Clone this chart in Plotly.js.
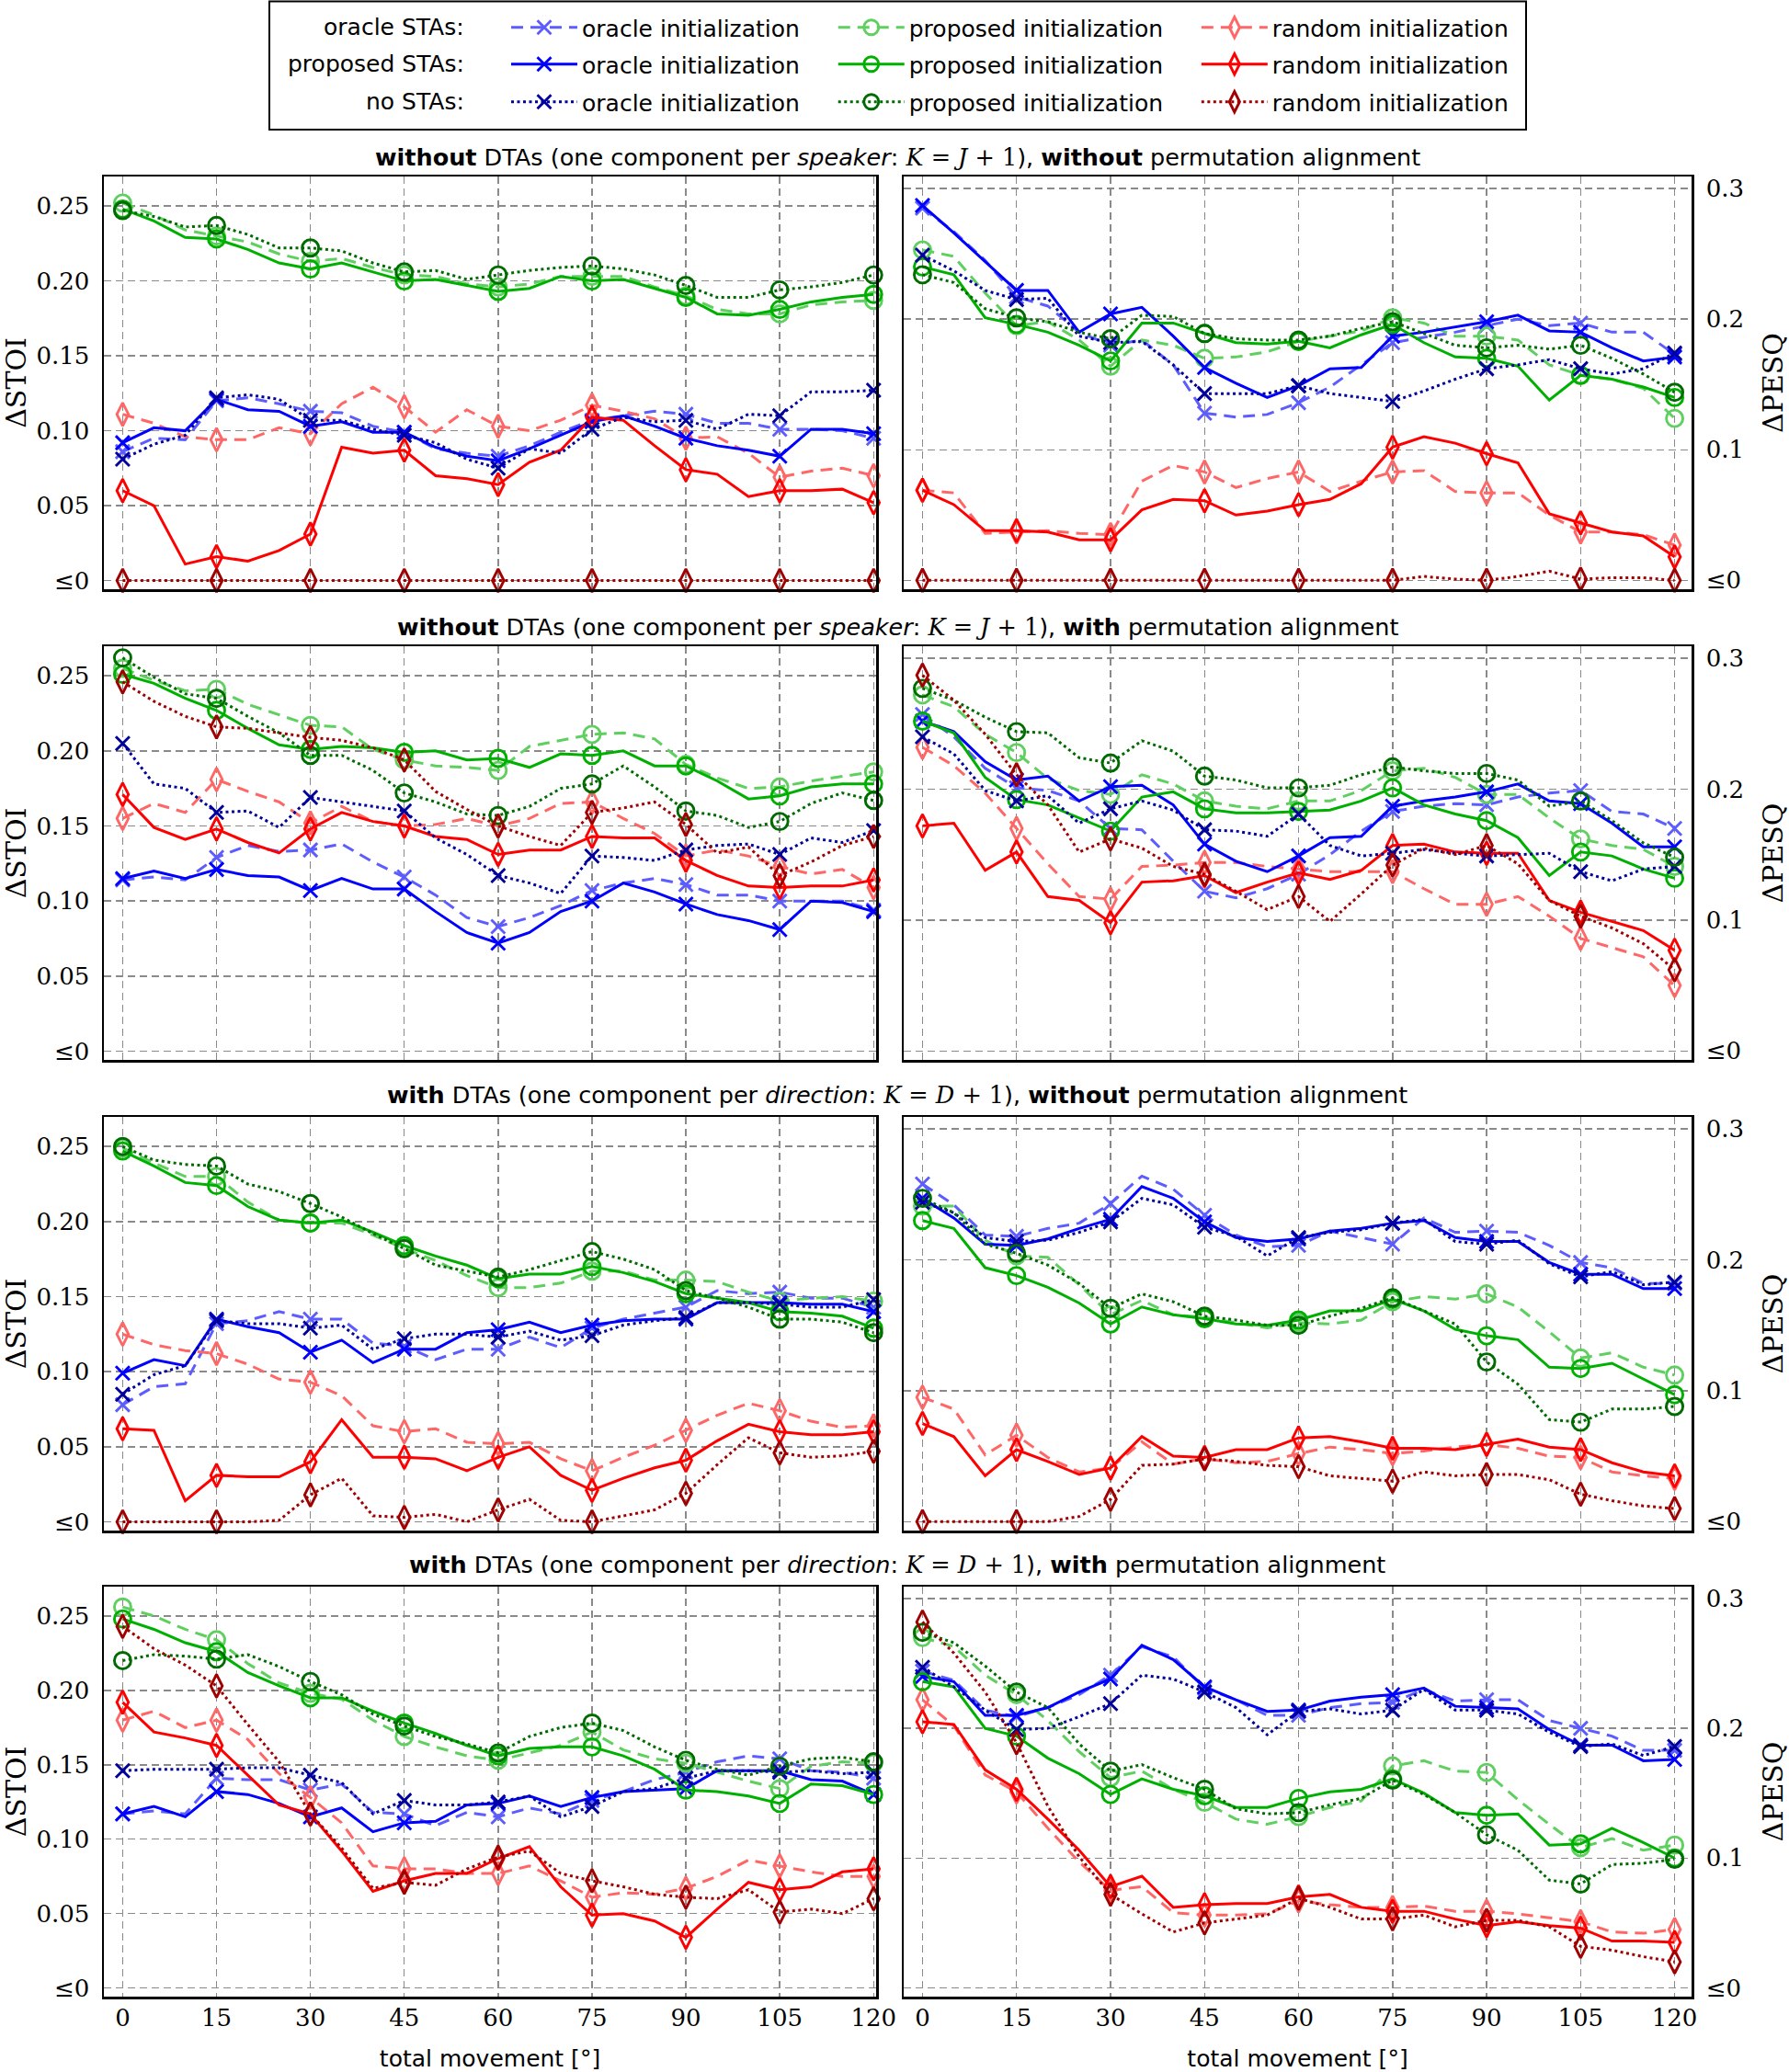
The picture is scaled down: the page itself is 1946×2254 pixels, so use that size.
<!DOCTYPE html>
<html><head><meta charset="utf-8">
<script src="https://cdn.plot.ly/plotly-3.0.1.min.js"></script>
<style>html,body{margin:0;padding:0;background:#fff}</style>
</head><body>
<div id="chart" style="width:1946px;height:2254px"></div>
<script>
// ---------- data ----------
const ANGLES = [0,5,10,15,20,25,30,35,40,45,50,55,60,65,70,75,80,85,90,95,100,105,110,115,120];
const MARK_STEP = 15;
const STOI_TICKS = [0,0.05,0.10,0.15,0.20,0.25];
const STOI_LABELS = ['≤0','0.05','0.10','0.15','0.20','0.25'];
const PESQ_TICKS = [0,0.1,0.2,0.3];
const PESQ_LABELS = ['≤0','0.1','0.2','0.3'];
const INIT_NAMES = ['oracle initialization','proposed initialization','random initialization'];
const STA_NAMES = ['oracle STAs:','proposed STAs:','no STAs:'];
const ROW_TITLES = [
 '<b>without</b> DTAs (one component per <i>speaker</i>: <span style="font-family:DejaVu Serif"><i>K</i> = <i>J</i> + 1</span>), <b>without</b> permutation alignment',
 '<b>without</b> DTAs (one component per <i>speaker</i>: <span style="font-family:DejaVu Serif"><i>K</i> = <i>J</i> + 1</span>), <b>with</b> permutation alignment',
 '<b>with</b> DTAs (one component per <i>direction</i>: <span style="font-family:DejaVu Serif"><i>K</i> = <i>D</i> + 1</span>), <b>without</b> permutation alignment',
 '<b>with</b> DTAs (one component per <i>direction</i>: <span style="font-family:DejaVu Serif"><i>K</i> = <i>D</i> + 1</span>), <b>with</b> permutation alignment'
];
// naming: r{row}{s=STOI|p=PESQ}_{o=oracle STAs|p=proposed STAs|n=no STAs}{O=oracle init|P=proposed init|R=random init}
// row 1
const r1s_oO=[0.086,0.095,0.094,0.120,0.122,0.118,0.113,0.112,0.103,0.099,0.088,0.085,0.083,0.090,0.099,0.107,0.110,0.113,0.111,0.105,0.105,0.101,0.101,0.100,0.095];
const r1s_oP=[0.252,0.244,0.234,0.230,0.226,0.218,0.213,0.215,0.209,0.204,0.203,0.198,0.196,0.198,0.203,0.203,0.203,0.196,0.190,0.181,0.178,0.178,0.184,0.186,0.187];
const r1s_oR=[0.111,0.105,0.096,0.094,0.094,0.102,0.098,0.118,0.129,0.116,0.099,0.114,0.103,0.100,0.107,0.117,0.113,0.108,0.095,0.096,0.085,0.069,0.073,0.075,0.070];
const r1s_pO=[0.092,0.102,0.100,0.121,0.114,0.113,0.103,0.106,0.099,0.099,0.089,0.083,0.080,0.088,0.097,0.106,0.110,0.103,0.095,0.090,0.087,0.083,0.101,0.101,0.098];
const r1s_pP=[0.248,0.240,0.229,0.228,0.221,0.212,0.208,0.212,0.206,0.200,0.201,0.197,0.193,0.195,0.203,0.200,0.201,0.195,0.189,0.178,0.177,0.181,0.186,0.189,0.191];
const r1s_pR=[0.060,0.050,0.011,0.016,0.013,0.020,0.031,0.089,0.085,0.087,0.070,0.068,0.064,0.079,0.087,0.109,0.107,0.090,0.074,0.071,0.056,0.060,0.060,0.061,0.052];
const r1s_nO=[0.081,0.091,0.097,0.122,0.124,0.121,0.107,0.107,0.101,0.097,0.092,0.081,0.075,0.088,0.085,0.101,0.109,0.106,0.107,0.101,0.111,0.110,0.126,0.126,0.127];
const r1s_nP=[0.247,0.243,0.236,0.237,0.231,0.222,0.222,0.220,0.212,0.206,0.207,0.201,0.204,0.207,0.209,0.210,0.208,0.204,0.197,0.189,0.189,0.194,0.196,0.199,0.204];
const r1s_nR=[0,0,0,0,0,0,0,0,0,0,0,0,0,0,0,0,0,0,0,0,0,0,0,0,0];
const r1p_oO=[0.285,0.267,0.245,0.217,0.210,0.190,0.180,0.184,0.165,0.128,0.125,0.127,0.136,0.148,0.165,0.182,0.186,0.190,0.195,0.200,0.195,0.197,0.190,0.190,0.173];
const r1p_oP=[0.253,0.248,0.220,0.195,0.198,0.184,0.164,0.184,0.180,0.170,0.171,0.175,0.183,0.187,0.191,0.201,0.197,0.187,0.187,0.184,0.165,0.157,0.154,0.147,0.124];
const r1p_oR=[0.069,0.067,0.036,0.037,0.038,0.036,0.035,0.076,0.088,0.083,0.071,0.078,0.083,0.068,0.076,0.083,0.084,0.068,0.067,0.067,0.050,0.037,0.037,0.035,0.027];
const r1p_pO=[0.287,0.266,0.244,0.222,0.222,0.190,0.204,0.209,0.187,0.163,0.151,0.140,0.149,0.162,0.163,0.187,0.190,0.194,0.198,0.203,0.191,0.190,0.178,0.168,0.171];
const r1p_pP=[0.240,0.234,0.201,0.196,0.190,0.180,0.168,0.197,0.197,0.189,0.182,0.181,0.183,0.178,0.188,0.196,0.182,0.171,0.170,0.164,0.138,0.157,0.154,0.148,0.140];
const r1p_pR=[0.069,0.058,0.038,0.038,0.037,0.031,0.031,0.054,0.062,0.061,0.050,0.053,0.058,0.062,0.074,0.102,0.110,0.105,0.097,0.090,0.051,0.044,0.037,0.034,0.018];
const r1p_nO=[0.249,0.237,0.222,0.215,0.216,0.187,0.182,0.183,0.165,0.143,0.143,0.143,0.149,0.143,0.140,0.137,0.145,0.154,0.162,0.165,0.169,0.162,0.158,0.162,0.174];
const r1p_nP=[0.234,0.228,0.208,0.201,0.198,0.190,0.185,0.203,0.202,0.189,0.185,0.184,0.184,0.187,0.193,0.198,0.189,0.180,0.178,0.180,0.177,0.180,0.170,0.158,0.144];
const r1p_nR=[0,0,0,0,0,0,0,0,0,0,0,0,0,0,0,0,0.003,0.001,0,0.003,0.007,0.001,0.002,0.002,0];
// row 2
const r2s_oO=[0.114,0.116,0.114,0.129,0.137,0.133,0.134,0.138,0.126,0.116,0.104,0.089,0.083,0.089,0.097,0.107,0.112,0.115,0.111,0.104,0.104,0.100,0.100,0.100,0.094];
const r2s_oP=[0.255,0.247,0.240,0.241,0.231,0.224,0.217,0.216,0.201,0.194,0.190,0.189,0.187,0.203,0.207,0.211,0.212,0.208,0.191,0.182,0.175,0.176,0.180,0.183,0.186];
const r2s_oR=[0.155,0.165,0.159,0.181,0.173,0.166,0.152,0.163,0.153,0.150,0.151,0.155,0.150,0.155,0.165,0.166,0.155,0.145,0.130,0.134,0.130,0.123,0.118,0.121,0.109];
const r2s_pO=[0.115,0.120,0.115,0.121,0.117,0.116,0.107,0.115,0.108,0.108,0.093,0.079,0.072,0.079,0.093,0.100,0.112,0.106,0.098,0.091,0.087,0.081,0.100,0.099,0.093];
const r2s_pP=[0.251,0.245,0.235,0.227,0.215,0.204,0.201,0.203,0.202,0.199,0.200,0.194,0.195,0.189,0.198,0.197,0.200,0.190,0.190,0.180,0.168,0.170,0.176,0.178,0.178];
const r2s_pR=[0.171,0.149,0.141,0.148,0.139,0.132,0.148,0.159,0.153,0.150,0.143,0.141,0.131,0.134,0.134,0.143,0.142,0.142,0.127,0.117,0.110,0.109,0.110,0.110,0.114];
const r2s_nO=[0.205,0.178,0.175,0.159,0.160,0.149,0.169,0.166,0.163,0.160,0.142,0.131,0.117,0.112,0.105,0.130,0.129,0.127,0.134,0.137,0.138,0.131,0.142,0.139,0.147];
const r2s_nP=[0.262,0.249,0.238,0.235,0.223,0.212,0.197,0.197,0.187,0.172,0.166,0.158,0.157,0.163,0.175,0.178,0.190,0.176,0.160,0.157,0.149,0.153,0.165,0.172,0.167];
const r2s_nR=[0.246,0.233,0.223,0.216,0.215,0.212,0.209,0.207,0.202,0.194,0.173,0.161,0.150,0.143,0.137,0.159,0.162,0.166,0.151,0.132,0.136,0.117,0.126,0.137,0.143];
const r2p_oO=[0.257,0.240,0.216,0.201,0.199,0.191,0.170,0.169,0.145,0.122,0.117,0.124,0.135,0.150,0.168,0.183,0.187,0.189,0.188,0.194,0.197,0.199,0.183,0.181,0.170];
const r2p_oP=[0.272,0.263,0.242,0.228,0.208,0.199,0.196,0.211,0.204,0.191,0.187,0.185,0.191,0.191,0.199,0.214,0.216,0.209,0.196,0.196,0.178,0.162,0.157,0.154,0.141];
const r2p_oR=[0.232,0.218,0.197,0.170,0.143,0.118,0.116,0.141,0.142,0.144,0.144,0.141,0.139,0.137,0.137,0.137,0.124,0.112,0.112,0.118,0.103,0.086,0.079,0.072,0.050];
const r2p_pO=[0.252,0.244,0.221,0.207,0.210,0.191,0.202,0.203,0.188,0.158,0.145,0.137,0.149,0.163,0.164,0.187,0.191,0.194,0.198,0.204,0.191,0.189,0.174,0.156,0.156];
const r2p_pP=[0.252,0.243,0.209,0.192,0.188,0.178,0.168,0.194,0.198,0.185,0.182,0.182,0.183,0.184,0.191,0.201,0.188,0.181,0.176,0.163,0.134,0.152,0.149,0.139,0.132];
const r2p_pR=[0.172,0.174,0.138,0.152,0.118,0.115,0.098,0.129,0.130,0.134,0.121,0.129,0.136,0.131,0.138,0.157,0.158,0.152,0.151,0.151,0.115,0.106,0.099,0.092,0.077];
const r2p_nO=[0.240,0.227,0.199,0.191,0.195,0.174,0.185,0.191,0.184,0.169,0.168,0.164,0.181,0.157,0.149,0.151,0.154,0.151,0.149,0.150,0.151,0.137,0.130,0.139,0.141];
const r2p_nP=[0.277,0.268,0.255,0.244,0.243,0.224,0.220,0.237,0.229,0.210,0.207,0.201,0.201,0.203,0.211,0.217,0.214,0.212,0.212,0.207,0.187,0.191,0.176,0.159,0.148];
const r2p_nR=[0.287,0.268,0.242,0.211,0.188,0.152,0.162,0.155,0.141,0.135,0.122,0.108,0.118,0.099,0.120,0.142,0.155,0.150,0.157,0.143,0.115,0.103,0.094,0.082,0.062];
// row 3
const r3s_oO=[0.078,0.090,0.092,0.132,0.134,0.140,0.135,0.135,0.119,0.117,0.108,0.115,0.115,0.123,0.116,0.129,0.135,0.139,0.143,0.154,0.152,0.153,0.149,0.149,0.143];
const r3s_oP=[0.249,0.239,0.230,0.230,0.213,0.201,0.199,0.199,0.191,0.182,0.174,0.164,0.156,0.156,0.159,0.167,0.167,0.161,0.161,0.160,0.153,0.147,0.149,0.150,0.147];
const r3s_oR=[0.125,0.118,0.114,0.112,0.105,0.095,0.093,0.084,0.064,0.060,0.062,0.053,0.052,0.053,0.042,0.034,0.043,0.051,0.061,0.071,0.079,0.074,0.067,0.063,0.064];
const r3s_pO=[0.099,0.108,0.104,0.135,0.130,0.126,0.113,0.121,0.106,0.115,0.115,0.126,0.128,0.133,0.126,0.131,0.134,0.135,0.135,0.146,0.146,0.146,0.145,0.145,0.140];
const r3s_pP=[0.247,0.237,0.226,0.224,0.210,0.201,0.199,0.201,0.193,0.184,0.177,0.171,0.162,0.165,0.165,0.170,0.166,0.160,0.152,0.149,0.146,0.140,0.139,0.137,0.129];
const r3s_pR=[0.062,0.061,0.014,0.031,0.030,0.030,0.040,0.068,0.043,0.043,0.042,0.034,0.043,0.050,0.031,0.021,0.029,0.036,0.041,0.054,0.065,0.060,0.058,0.058,0.060];
const r3s_nO=[0.085,0.098,0.104,0.134,0.132,0.132,0.129,0.131,0.115,0.122,0.125,0.125,0.123,0.127,0.121,0.124,0.131,0.134,0.136,0.146,0.146,0.145,0.143,0.143,0.148];
const r3s_nP=[0.250,0.241,0.238,0.237,0.225,0.220,0.212,0.203,0.192,0.182,0.171,0.167,0.163,0.168,0.174,0.180,0.175,0.168,0.154,0.149,0.143,0.135,0.135,0.133,0.126];
const r3s_nR=[0,0,0,0,0,0.001,0.018,0.029,0.004,0.003,0.005,0,0.008,0.015,0.001,0,0.004,0.008,0.019,0.038,0.056,0.046,0.043,0.044,0.047];
const r3p_oO=[0.258,0.242,0.219,0.218,0.224,0.228,0.243,0.264,0.254,0.234,0.219,0.210,0.211,0.222,0.217,0.212,0.232,0.221,0.222,0.221,0.211,0.198,0.194,0.182,0.182];
const r3p_oP=[0.241,0.241,0.215,0.203,0.202,0.181,0.158,0.169,0.158,0.156,0.152,0.148,0.152,0.151,0.154,0.168,0.172,0.170,0.174,0.164,0.145,0.125,0.129,0.118,0.112];
const r3p_oR=[0.095,0.086,0.051,0.066,0.049,0.038,0.041,0.061,0.044,0.048,0.045,0.046,0.052,0.057,0.055,0.052,0.054,0.057,0.059,0.056,0.050,0.049,0.038,0.035,0.033];
const r3p_pO=[0.247,0.232,0.212,0.211,0.216,0.224,0.231,0.256,0.247,0.229,0.217,0.214,0.216,0.222,0.224,0.228,0.230,0.217,0.214,0.214,0.198,0.189,0.189,0.178,0.178];
const r3p_pP=[0.230,0.224,0.194,0.188,0.179,0.167,0.151,0.164,0.158,0.155,0.151,0.150,0.154,0.161,0.161,0.170,0.161,0.147,0.142,0.139,0.118,0.117,0.121,0.109,0.097];
const r3p_pR=[0.075,0.065,0.035,0.055,0.046,0.036,0.041,0.065,0.050,0.049,0.055,0.055,0.064,0.065,0.061,0.056,0.056,0.055,0.059,0.063,0.057,0.055,0.045,0.038,0.035];
const r3p_nO=[0.244,0.236,0.217,0.214,0.215,0.221,0.229,0.247,0.242,0.225,0.218,0.203,0.217,0.221,0.223,0.228,0.231,0.214,0.212,0.215,0.197,0.187,0.191,0.181,0.183];
const r3p_nP=[0.247,0.236,0.212,0.205,0.196,0.182,0.163,0.174,0.168,0.157,0.154,0.150,0.150,0.157,0.163,0.171,0.161,0.151,0.122,0.105,0.078,0.076,0.086,0.086,0.088];
const r3p_nR=[0,0,0,0,0,0.004,0.017,0.043,0.044,0.048,0.046,0.043,0.042,0.035,0.033,0.031,0.038,0.035,0.036,0.036,0.032,0.021,0.016,0.012,0.010];
// row 4
const r4s_oO=[0.117,0.119,0.117,0.141,0.140,0.140,0.133,0.137,0.118,0.117,0.109,0.118,0.115,0.121,0.117,0.126,0.132,0.140,0.145,0.152,0.156,0.154,0.146,0.145,0.141];
const r4s_oP=[0.256,0.250,0.241,0.234,0.218,0.205,0.198,0.194,0.180,0.169,0.162,0.156,0.153,0.158,0.163,0.172,0.160,0.154,0.151,0.145,0.139,0.134,0.149,0.152,0.151];
const r4s_oR=[0.180,0.186,0.175,0.180,0.167,0.144,0.128,0.111,0.082,0.080,0.080,0.077,0.077,0.082,0.072,0.061,0.064,0.063,0.067,0.075,0.086,0.082,0.078,0.075,0.075];
const r4s_pO=[0.117,0.122,0.115,0.132,0.130,0.124,0.115,0.121,0.105,0.111,0.112,0.123,0.124,0.129,0.122,0.128,0.132,0.133,0.134,0.146,0.146,0.146,0.140,0.139,0.130];
const r4s_pP=[0.248,0.241,0.232,0.226,0.212,0.203,0.195,0.195,0.186,0.178,0.171,0.163,0.156,0.161,0.162,0.162,0.156,0.147,0.133,0.132,0.129,0.124,0.137,0.136,0.130];
const r4s_pR=[0.192,0.172,0.168,0.163,0.143,0.123,0.117,0.092,0.065,0.072,0.077,0.077,0.087,0.095,0.068,0.049,0.050,0.045,0.034,0.053,0.071,0.066,0.068,0.078,0.080];
const r4s_nO=[0.146,0.147,0.147,0.147,0.148,0.148,0.143,0.138,0.117,0.126,0.123,0.123,0.125,0.129,0.115,0.122,0.132,0.134,0.141,0.146,0.146,0.145,0.146,0.144,0.145];
const r4s_nP=[0.220,0.224,0.223,0.221,0.224,0.216,0.206,0.197,0.184,0.176,0.169,0.164,0.158,0.169,0.175,0.178,0.173,0.162,0.153,0.147,0.143,0.149,0.154,0.155,0.152];
const r4s_nR=[0.243,0.228,0.217,0.203,0.177,0.152,0.117,0.094,0.067,0.071,0.069,0.080,0.088,0.092,0.077,0.072,0.068,0.063,0.061,0.060,0.066,0.051,0.053,0.050,0.060];
const r4p_oO=[0.244,0.237,0.214,0.209,0.216,0.226,0.241,0.263,0.255,0.231,0.222,0.210,0.210,0.216,0.219,0.220,0.230,0.221,0.222,0.222,0.206,0.200,0.194,0.183,0.183];
const r4p_oP=[0.270,0.263,0.241,0.226,0.206,0.182,0.162,0.167,0.153,0.143,0.130,0.126,0.132,0.139,0.144,0.171,0.175,0.167,0.166,0.145,0.126,0.108,0.115,0.106,0.110];
const r4p_oR=[0.222,0.202,0.164,0.151,0.123,0.097,0.075,0.078,0.058,0.056,0.056,0.057,0.067,0.064,0.062,0.062,0.063,0.059,0.059,0.057,0.054,0.051,0.043,0.042,0.045];
const r4p_pO=[0.240,0.236,0.210,0.210,0.216,0.228,0.238,0.264,0.253,0.232,0.222,0.213,0.214,0.221,0.224,0.226,0.231,0.217,0.216,0.215,0.199,0.187,0.187,0.175,0.176];
const r4p_pP=[0.236,0.232,0.200,0.194,0.177,0.165,0.149,0.161,0.153,0.148,0.139,0.139,0.146,0.151,0.153,0.161,0.150,0.135,0.133,0.134,0.110,0.111,0.123,0.112,0.100];
const r4p_pR=[0.205,0.203,0.168,0.153,0.130,0.106,0.078,0.086,0.062,0.064,0.065,0.065,0.070,0.072,0.062,0.059,0.059,0.053,0.048,0.051,0.048,0.046,0.036,0.036,0.035];
const r4p_nO=[0.247,0.232,0.214,0.199,0.200,0.209,0.219,0.241,0.238,0.228,0.216,0.195,0.213,0.215,0.211,0.214,0.230,0.214,0.214,0.211,0.197,0.186,0.188,0.179,0.186];
const r4p_nP=[0.274,0.266,0.248,0.228,0.216,0.188,0.167,0.172,0.162,0.153,0.138,0.134,0.135,0.141,0.146,0.160,0.149,0.135,0.118,0.106,0.083,0.080,0.095,0.096,0.099];
const r4p_nR=[0.282,0.258,0.228,0.189,0.140,0.101,0.072,0.057,0.043,0.050,0.053,0.056,0.069,0.062,0.053,0.053,0.056,0.047,0.052,0.052,0.047,0.032,0.029,0.024,0.020];

// ---------- table built from the named arrays ----------
const PANELS = [
 {row:0,col:0,s:{oO:r1s_oO,oP:r1s_oP,oR:r1s_oR,pO:r1s_pO,pP:r1s_pP,pR:r1s_pR,nO:r1s_nO,nP:r1s_nP,nR:r1s_nR}},
 {row:0,col:1,s:{oO:r1p_oO,oP:r1p_oP,oR:r1p_oR,pO:r1p_pO,pP:r1p_pP,pR:r1p_pR,nO:r1p_nO,nP:r1p_nP,nR:r1p_nR}},
 {row:1,col:0,s:{oO:r2s_oO,oP:r2s_oP,oR:r2s_oR,pO:r2s_pO,pP:r2s_pP,pR:r2s_pR,nO:r2s_nO,nP:r2s_nP,nR:r2s_nR}},
 {row:1,col:1,s:{oO:r2p_oO,oP:r2p_oP,oR:r2p_oR,pO:r2p_pO,pP:r2p_pP,pR:r2p_pR,nO:r2p_nO,nP:r2p_nP,nR:r2p_nR}},
 {row:2,col:0,s:{oO:r3s_oO,oP:r3s_oP,oR:r3s_oR,pO:r3s_pO,pP:r3s_pP,pR:r3s_pR,nO:r3s_nO,nP:r3s_nP,nR:r3s_nR}},
 {row:2,col:1,s:{oO:r3p_oO,oP:r3p_oP,oR:r3p_oR,pO:r3p_pO,pP:r3p_pP,pR:r3p_pR,nO:r3p_nO,nP:r3p_nP,nR:r3p_nR}},
 {row:3,col:0,s:{oO:r4s_oO,oP:r4s_oP,oR:r4s_oR,pO:r4s_pO,pP:r4s_pP,pR:r4s_pR,nO:r4s_nO,nP:r4s_nP,nR:r4s_nR}},
 {row:3,col:1,s:{oO:r4p_oO,oP:r4p_oP,oR:r4p_oR,pO:r4p_pO,pP:r4p_pP,pR:r4p_pR,nO:r4p_nO,nP:r4p_nP,nR:r4p_nR}}
];

// ---------- styles ----------
const W = 1946, H = 2254;
const px = v => v / W, py = v => 1 - v / H;
const STA_KEYS = ['o','p','n'];
const INIT_KEYS = ['O','P','R'];
const DASH = {o:'13px,8px', p:'solid', n:'3px,3.5px'};
const COLOR = {
  o:{O:'#5d5dff', P:'#5fcf5f', R:'#ff6666'},
  p:{O:'#0000ff', P:'#00b000', R:'#ff0000'},
  n:{O:'#00009c', P:'#006b00', R:'#a00000'}
};
const SYMBOL = {O:'x-thin-open', P:'circle-open', R:'diamond-tall-open'};
const MSIZE = {O:15, P:18, R:18};
const LW = 3;
const MLW = 2.9;

const COL_X = [[113,953],[983,1840]];
const ROW_Y = [[192,641],[703,1153],[1215,1665],[1726,2172]];
const SERIF = 'DejaVu Serif', SANS = 'DejaVu Sans';
const PAD = '\u00a0\u00a0\u00a0\u00a0';

const traces = [];
const layout = {
  width: W, height: H, margin:{l:0,r:0,t:0,b:0}, paper_bgcolor:'#fff', plot_bgcolor:'#fff',
  showlegend: true, annotations: [], shapes: []
};

PANELS.forEach((p, k) => {
  const n = k + 1, sfx = n === 1 ? '' : String(n);
  const xa = 'x' + sfx, ya = 'y' + sfx;
  const isS = p.col === 0, bottom = p.row === 3;
  layout['xaxis' + sfx] = {
    domain: [px(COL_X[p.col][0]), px(COL_X[p.col][1])], anchor: ya,
    range: isS ? [-3, 120.4] : [-3, 122.7],
    tickmode:'array', tickvals: ANGLES.filter(a => a % MARK_STEP === 0),
    showticklabels: bottom, ticks:'', ticklabelstandoff: -2,
    tickfont:{family:SERIF, size:26, color:'#000'},
    showgrid:true, gridcolor:'#8a8a8a', gridwidth:1.5, griddash:'8px,5px',
    showline:true, mirror:true, linecolor:'#000', linewidth:2.5, zeroline:false,
    title: bottom ? {text:'total movement [°]', font:{family:SANS, size:25, color:'#000'}, standoff:22} : {text:''}
  };
  layout['yaxis' + sfx] = {
    domain: [py(ROW_Y[p.row][1]), py(ROW_Y[p.row][0])], anchor: xa,
    side: isS ? 'left' : 'right',
    range: isS ? [-0.0058, 0.2697] : [-0.0068, 0.3092],
    tickmode:'array', tickvals: isS ? STOI_TICKS : PESQ_TICKS, ticktext: isS ? STOI_LABELS : PESQ_LABELS,
    ticks:'', ticklabelstandoff: 8,
    tickfont:{family:SERIF, size:26, color:'#000'},
    showgrid:true, gridcolor:'#8a8a8a', gridwidth:1.5, griddash:'8px,5px',
    showline:true, mirror:true, linecolor:'#000', linewidth:2.5, zeroline:false,
    title:{text: isS ? 'ΔSTOI' : 'ΔPESQ', font:{family:SERIF, size:30, color:'#000'}, standoff: isS ? 8 : 26}
  };
  STA_KEYS.forEach(sk => INIT_KEYS.forEach(ik => {
    const y = p.s[sk + ik];
    const c = COLOR[sk][ik];
    traces.push({type:'scatter', mode:'lines', x:ANGLES, y:y, xaxis:xa, yaxis:ya,
      line:{color:c, width:LW, dash:DASH[sk]}, showlegend:false, hoverinfo:'skip'});
    const mx = [], my = [];
    ANGLES.forEach((a, i) => { if (a % MARK_STEP === 0) { mx.push(a); my.push(y[i]); } });
    traces.push({type:'scatter', mode:'markers', x:mx, y:my, xaxis:xa, yaxis:ya, cliponaxis:false,
      marker:{symbol:SYMBOL[ik], size:MSIZE[ik], color:c, line:{color:c, width:MLW}},
      showlegend:false, hoverinfo:'skip'});
  }));
});

// ---------- legend: one horizontal legend per STA row ----------
const LEG_Y = [30, 70, 111];
const LEG_IDS = ['legend','legend2','legend3'];
STA_KEYS.forEach((sk, r) => {
  INIT_KEYS.forEach((ik, j) => {
    traces.push({type:'scatter', mode:'lines+markers', x:[null], y:[null], name: INIT_NAMES[j] + PAD,
      legend: LEG_IDS[r], line:{color:COLOR[sk][ik], width:LW, dash:DASH[sk]},
      marker:{symbol:SYMBOL[ik], size:MSIZE[ik], color:COLOR[sk][ik], line:{color:COLOR[sk][ik], width:MLW}},
      hoverinfo:'skip'});
  });
  layout[LEG_IDS[r]] = {orientation:'h', x:px(551), xanchor:'left', y:py(LEG_Y[r]), yanchor:'middle',
    bgcolor:'rgba(0,0,0,0)', borderwidth:0, itemwidth:72, traceorder:'normal',
    font:{family:SANS, size:25, color:'#000'}, itemclick:false, itemdoubleclick:false};
  layout.annotations.push({xref:'paper', yref:'paper', x:px(507), y:py(LEG_Y[r]), xanchor:'right', yanchor:'middle',
    text: STA_NAMES[r], showarrow:false, font:{family:SANS, size:25, color:'#000'}});
});
layout.shapes.push({type:'rect', xref:'paper', yref:'paper', x0:px(293), x1:px(1660), y0:py(1.5), y1:py(141),
  line:{color:'#000', width:2}, fillcolor:'rgba(0,0,0,0)'});

// ---------- row titles ----------
const TITLE_Y = [171, 682, 1191, 1702];
ROW_TITLES.forEach((t, r) => layout.annotations.push({xref:'paper', yref:'paper', x:px(976), y:py(TITLE_Y[r]),
  xanchor:'center', yanchor:'middle', text:t, showarrow:false, font:{family:SANS, size:25.5, color:'#000'}}));

Plotly.newPlot('chart', traces, layout, {staticPlot:true, displayModeBar:false});
</script>
</body></html>
